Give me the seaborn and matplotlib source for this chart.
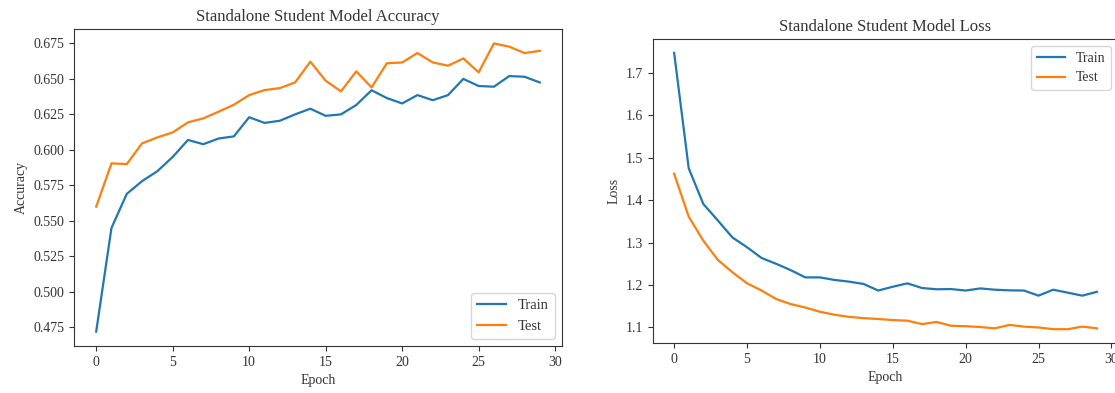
import matplotlib
matplotlib.use("Agg")
import matplotlib.pyplot as plt
import seaborn as sns
import numpy as np

epochs = list(range(30))

acc_train = [0.472, 0.545, 0.569, 0.578, 0.585, 0.595, 0.607, 0.604, 0.608, 0.6095,
             0.623, 0.619, 0.6205, 0.625, 0.629, 0.624, 0.625, 0.6316, 0.642, 0.6365,
             0.6327, 0.6386, 0.635, 0.6386, 0.650, 0.645, 0.6445, 0.652, 0.6515, 0.6475]
acc_test = [0.560, 0.5905, 0.590, 0.6046, 0.6088, 0.6123, 0.6194, 0.6222, 0.6269, 0.6318,
            0.6386, 0.6421, 0.6435, 0.6475, 0.6621, 0.6487, 0.6412, 0.6553, 0.644, 0.661,
            0.6616, 0.6682, 0.6616, 0.6593, 0.6644, 0.6546, 0.675, 0.6727, 0.6682, 0.6698]

loss_train = [1.747, 1.475, 1.391, 1.352, 1.312, 1.289, 1.2637, 1.250, 1.235, 1.218,
              1.218, 1.212, 1.208, 1.2025, 1.187, 1.196, 1.204, 1.193, 1.190, 1.1905,
              1.187, 1.192, 1.189, 1.1875, 1.187, 1.175, 1.189, 1.182, 1.175, 1.184]
loss_test = [1.462, 1.361, 1.3046, 1.259, 1.230, 1.204, 1.187, 1.167, 1.155, 1.147,
             1.137, 1.130, 1.125, 1.122, 1.120, 1.1175, 1.116, 1.108, 1.113, 1.104,
             1.103, 1.101, 1.098, 1.106, 1.102, 1.100, 1.096, 1.096, 1.102, 1.098]

series_labels = ["Train", "Test"]
titles = ["Standalone Student Model Accuracy", "Standalone Student Model Loss"]
ylabels = ["Accuracy", "Loss"]

plt.rcParams['font.family'] = ['Liberation Serif', 'DejaVu Serif']
plt.rcParams['font.size'] = 10
text_color = "#333333"
plt.rcParams['text.color'] = text_color
plt.rcParams['axes.labelcolor'] = text_color
plt.rcParams['xtick.color'] = "#333333"
plt.rcParams['ytick.color'] = "#333333"
plt.rcParams['axes.edgecolor'] = "#333333"

fig = plt.figure(figsize=(11.15, 3.93), dpi=100)
ax1 = fig.add_axes([74/1115, 1 - 346/393, (562-74)/1115, (346-29)/393])
ax2 = fig.add_axes([653/1115, 1 - 343/393, (1118-653)/1115, (343-39)/393])

colors = ["#1f77b4", "#ff7f0e"]

sns.lineplot(x=epochs, y=acc_train, ax=ax1, color=colors[0], label=series_labels[0], linewidth=1.6)
sns.lineplot(x=epochs, y=acc_test, ax=ax1, color=colors[1], label=series_labels[1], linewidth=1.6)
sns.lineplot(x=epochs, y=loss_train, ax=ax2, color=colors[0], label=series_labels[0], linewidth=1.6)
sns.lineplot(x=epochs, y=loss_test, ax=ax2, color=colors[1], label=series_labels[1], linewidth=1.6)

for ax, t, yl in zip([ax1, ax2], titles, ylabels):
    ax.set_title(t, fontsize=12)
    ax.set_xlabel("Epoch", fontsize=10)
    ax.set_ylabel(yl, fontsize=10)
    ax.set_xticks([0, 5, 10, 15, 20, 25, 30])
    ax.tick_params(labelsize=10)

ax1.set_yticks(np.arange(0.475, 0.676, 0.025))
ax1.legend(loc="lower right", fontsize=10.5)
ax2.legend(loc="upper right", fontsize=10)

fig.savefig("out.png", dpi=100)
